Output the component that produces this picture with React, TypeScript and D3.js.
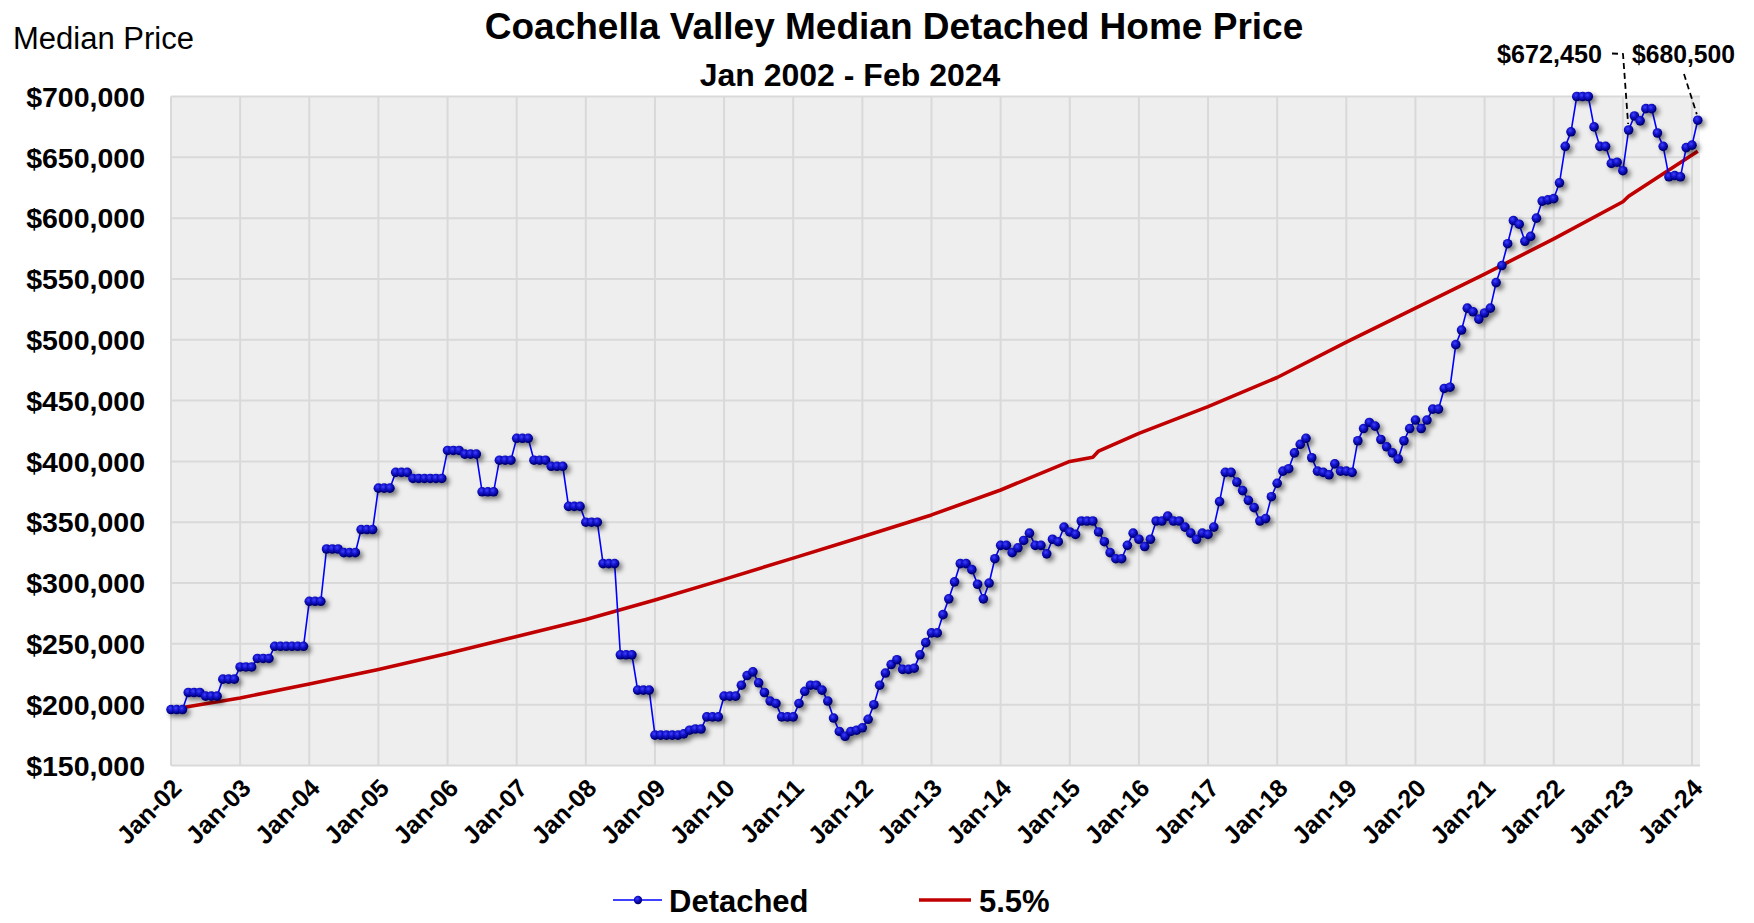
import React from 'react';
import * as d3 from 'd3';

// ---------- DATA ----------
const yearLabels = ['Jan-02','Jan-03','Jan-04','Jan-05','Jan-06','Jan-07','Jan-08','Jan-09','Jan-10','Jan-11','Jan-12','Jan-13','Jan-14','Jan-15','Jan-16','Jan-17','Jan-18','Jan-19','Jan-20','Jan-21','Jan-22','Jan-23','Jan-24'];

const yTicks = [150000, 200000, 250000, 300000, 350000, 400000, 450000, 500000, 550000, 600000, 650000, 700000];

// Monthly median detached price, $ thousands, Jan 2002 .. Feb 2024
const detachedK = [
  196,196,196, 210,210,210, 207,207,207, 221,221,221,
  231,231,231, 238,238,238, 248,248,248, 248,248,248,
  285,285,285, 328,328,328, 325,325,325, 344,344,344,
  378,378,378, 391,391,391, 386,386,386, 386,386,386,
  409,409,409, 406,406,406, 375,375,375, 401,401,401,
  419,419,419, 401,401,401, 396,396,396, 363,363,363,
  350,350,350, 316,316,316, 241,241,241, 212,212,212,
  175,175,175, 175,175,176, 179,180,180, 190,190,190,
  207,207,207, 216,224,227, 218,210,203, 201,190,190,
  190,201,211, 216,216,212, 203,189,178, 174,178,179,
  181,188,200, 216,226,233, 237,229,229, 230,241,251,
  259,259,274, 287,301,316, 316,311,299, 287,300,320,
  331,331,325, 329,335,341, 331,331,324, 336,334,346,
  342,340,351, 351,351,342, 334,325,320, 320,331,341,
  336,330,336, 351,351,355, 351,351,346, 341,336,341,
  340,346,367, 391,391,383, 376,368,362, 351,353,371,
  382,392,394, 407,414,419, 403,392,391, 389,398,392,
  392,391,417, 427,432,429, 418,412,407, 402,417,427,
  434,427,434, 443,443,460, 461,496,508, 526,523,517,
  522,526,547, 561,579,598, 595,581,585, 600,614,615,
  616,629,659, 671,700,700, 700,675,659, 659,645,646,
  639,672.45,684, 680,690,690, 670,659,634, 635,634,658,
  660,680.5
];

// 5.5% trend line, (month index, $ thousands)
const trendMonths = [0,12,24,36,48,60,72,84,96,108,120,132,144,156,160,161,168,180,192,204,216,228,240,252,253,265];
const trendK = [196,205.5,217,229,242,256,270,286,303,320.5,338,356,376.5,400,403.5,408.5,423,445,469,498,526,554,583,613.5,618,655];

const calloutMonths = [253, 265];
const calloutLabels = ['$672,450', '$680,500'];

// ---------- LAYOUT ----------
const W = 1754, H = 923;
const plotL = 171, plotR = 1700, plotT = 96.5, plotB = 765.5;
const FONT = "'Liberation Sans', Arial, Helvetica, sans-serif";

export default function App() {
  const x = d3.scaleLinear().domain([0, 264]).range([plotL, 1692]);
  const y = d3.scaleLinear().domain([150000, 700000]).range([plotB, plotT]);
  const fmt = d3.format('$,.0f');

  const detLine = d3.line<number>().x((_, i) => x(i)).y(d => y(d * 1000));
  const trendPts = trendMonths.map((m, i) => [m, trendK[i]] as [number, number]);
  const trLine = d3.line<[number, number]>().x(d => x(d[0])).y(d => y(d[1] * 1000));

  const p1 = { x: x(calloutMonths[0]), y: y(detachedK[calloutMonths[0]] * 1000) };
  const p2 = { x: x(calloutMonths[1]), y: y(detachedK[calloutMonths[1]] * 1000) };

  return (
    <svg width={W} height={H} style={{ position: 'absolute', left: 0, top: 0, background: '#fff' }} fontFamily={FONT}>
      <defs>
        <radialGradient id="dotGrad" cx="40%" cy="35%" r="65%">
          <stop offset="0%" stopColor="#4040ff" />
          <stop offset="55%" stopColor="#0a0abd" />
          <stop offset="100%" stopColor="#00005e" />
        </radialGradient>
        <filter id="shadow" x="-50%" y="-50%" width="200%" height="200%">
          <feGaussianBlur in="SourceAlpha" stdDeviation="2.5" />
          <feOffset dx="3" dy="3" result="off" />
          <feComponentTransfer><feFuncA type="linear" slope="0.5" /></feComponentTransfer>
          <feMerge><feMergeNode /><feMergeNode in="SourceGraphic" /></feMerge>
        </filter>
      </defs>

      <rect x={plotL} y={plotT} width={plotR - plotL} height={plotB - plotT} fill="#eeeeee" />
      {yTicks.map(t => (
        <line key={'h' + t} x1={plotL} x2={plotR} y1={y(t)} y2={y(t)} stroke="#d9d9d9" strokeWidth={2} />
      ))}
      {yearLabels.map((_, i) => (
        <line key={'v' + i} x1={x(i * 12)} x2={x(i * 12)} y1={plotT} y2={plotB} stroke="#d9d9d9" strokeWidth={2} />
      ))}

      {yTicks.map(t => (
        <text key={'yl' + t} x={145} y={y(t)} dy="0.36em" textAnchor="end" fontSize={28.5} fontWeight="bold" fill="#000">
          {fmt(t)}
        </text>
      ))}

      {yearLabels.map((lab, i) => (
        <text key={'xl' + i} transform={`translate(${x(i * 12) + 6},${plotB + 18}) rotate(-45)`} textAnchor="end" dy="0.35em" fontSize={25} fontWeight="bold" fill="#000">
          {lab}
        </text>
      ))}

      <path d={trLine(trendPts) || ''} fill="none" stroke="#c00000" strokeWidth={3.6} strokeLinejoin="round" />

      <path d={detLine(detachedK) || ''} fill="none" stroke="#0000ff" strokeWidth={1.6} />
      <g filter="url(#shadow)">
        {detachedK.map((v, i) => (
          <circle key={'c' + i} cx={x(i)} cy={y(v * 1000)} r={4.8} fill="url(#dotGrad)" />
        ))}
      </g>

      <path d={`M1612,53.5 L1623,54 L${p1.x - 0.5},${p1.y - 6}`} fill="none" stroke="#000" strokeWidth={1.8} strokeDasharray="6,4" />
      <path d={`M1684,74 L${p2.x - 1},${p2.y - 6}`} fill="none" stroke="#000" strokeWidth={1.8} strokeDasharray="6,4" />
      <text x={1497} y={63} fontSize={26} fontWeight="bold" textLength={105} lengthAdjust="spacingAndGlyphs">{calloutLabels[0]}</text>
      <text x={1632} y={63} fontSize={26} fontWeight="bold" textLength={103} lengthAdjust="spacingAndGlyphs">{calloutLabels[1]}</text>

      <text x={13} y={49} fontSize={31} fill="#000">Median Price</text>
      <text x={894} y={39} fontSize={37} fontWeight="bold" textAnchor="middle">Coachella Valley Median Detached Home Price</text>
      <text x={850} y={86} fontSize={32} fontWeight="bold" textAnchor="middle">Jan 2002 - Feb 2024</text>

      <line x1={613} x2={662} y1={900} y2={900} stroke="#0000ff" strokeWidth={1.6} />
      <circle cx={638} cy={900} r={4.2} fill="url(#dotGrad)" />
      <text x={669} y={912} fontSize={31} fontWeight="bold">Detached</text>
      <line x1={919} x2={971} y1={900} y2={900} stroke="#c00000" strokeWidth={3.6} />
      <text x={979} y={912} fontSize={31} fontWeight="bold">5.5%</text>
    </svg>
  );
}
